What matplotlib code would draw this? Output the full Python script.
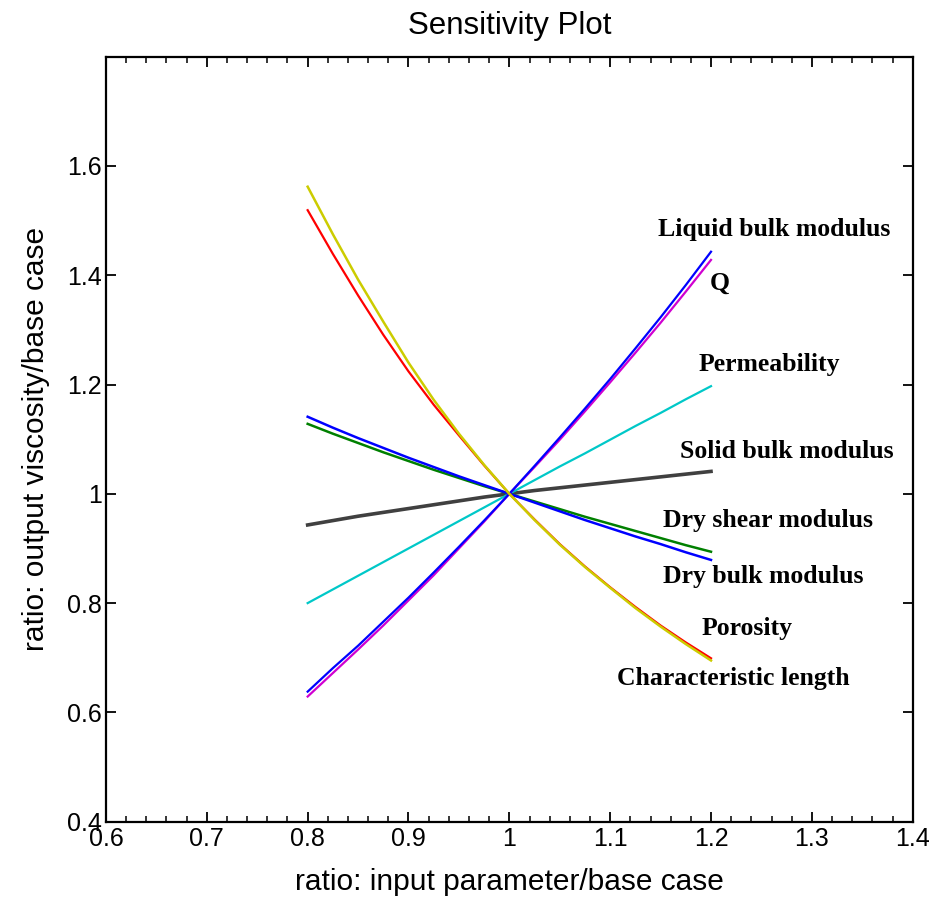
import matplotlib
matplotlib.use('Agg')
import matplotlib.pyplot as plt
from matplotlib.ticker import MultipleLocator

# input ratio sampled along every curve
ratio = [0.8, 0.825, 0.85, 0.875, 0.9, 0.925, 0.95, 0.975, 1.0,
         1.025, 1.05, 1.075, 1.1, 1.125, 1.15, 1.175, 1.2]

# output viscosity ratio
char_length = [1.562, 1.475, 1.392, 1.315, 1.240, 1.172, 1.110, 1.053, 1.0,
               0.952, 0.907, 0.866, 0.828, 0.791, 0.757, 0.725, 0.695]
porosity = [1.519, 1.439, 1.363, 1.291, 1.224, 1.163, 1.107, 1.052, 1.0,
            0.953, 0.908, 0.867, 0.829, 0.793, 0.759, 0.728, 0.699]
liquid_bulk = [0.638, 0.681, 0.722, 0.766, 0.810, 0.856, 0.903, 0.951, 1.0,
               1.051, 1.103, 1.156, 1.210, 1.266, 1.323, 1.382, 1.443]
q_factor = [0.629, 0.672, 0.715, 0.759, 0.805, 0.851, 0.900, 0.949, 1.0,
            1.049, 1.099, 1.151, 1.204, 1.258, 1.313, 1.370, 1.428]
permeability = [0.800, 0.825, 0.850, 0.875, 0.900, 0.925, 0.950, 0.975, 1.0,
                1.025, 1.050, 1.074, 1.099, 1.124, 1.148, 1.173, 1.197]
solid_bulk = [0.943, 0.951, 0.959, 0.966, 0.973, 0.980, 0.987, 0.994, 1.0,
              1.006, 1.011, 1.016, 1.021, 1.026, 1.031, 1.036, 1.041]
dry_shear = [1.128, 1.110, 1.093, 1.076, 1.060, 1.044, 1.029, 1.014, 1.0,
             0.986, 0.972, 0.958, 0.945, 0.932, 0.919, 0.906, 0.894]
dry_bulk = [1.141, 1.121, 1.102, 1.084, 1.066, 1.049, 1.032, 1.016, 1.0,
            0.984, 0.968, 0.952, 0.937, 0.922, 0.908, 0.893, 0.879]

labels = ['Liquid bulk modulus', 'Q', 'Permeability', 'Solid bulk modulus',
          'Dry shear modulus', 'Dry bulk modulus', 'Porosity', 'Characteristic length']
label_x = [1.147, 1.199, 1.188, 1.169, 1.152, 1.152, 1.191, 1.107]
label_y = [1.483, 1.386, 1.236, 1.077, 0.952, 0.848, 0.753, 0.662]

fig = plt.figure(figsize=(9.38, 8.99), dpi=100)
ax = fig.add_axes([0.113, 0.086, 0.86, 0.851])

ax.plot(ratio, solid_bulk, color='#404040', lw=2.6)
ax.plot(ratio, permeability, color='#00c8c8', lw=1.6)
ax.plot(ratio, dry_shear, color='#008000', lw=1.8)
ax.plot(ratio, dry_bulk, color='#0000ff', lw=1.8)
ax.plot(ratio, q_factor, color='#d000d0', lw=1.6)
ax.plot(ratio, liquid_bulk, color='#0000ff', lw=1.6)
ax.plot(ratio, porosity, color='#ff0000', lw=1.6)
ax.plot(ratio, char_length, color='#cccc00', lw=1.8)

for name, tx, ty in zip(labels, label_x, label_y):
    ax.text(tx, ty, name, ha='left', va='center', fontsize=18.5,
            fontweight='bold', family='Liberation Serif')

ax.set_xlim(0.6, 1.4)
ax.set_ylim(0.4, 1.8)
ax.set_xticks([0.6, 0.7, 0.8, 0.9, 1.0, 1.1, 1.2, 1.3, 1.4])
ax.set_xticklabels(['0.6', '0.7', '0.8', '0.9', '1', '1.1', '1.2', '1.3', '1.4'])
ax.set_yticks([0.4, 0.6, 0.8, 1.0, 1.2, 1.4, 1.6])
ax.set_yticklabels(['0.4', '0.6', '0.8', '1', '1.2', '1.4', '1.6'])
ax.xaxis.set_minor_locator(MultipleLocator(0.02))

ax.tick_params(which='both', direction='in', top=True, right=True)
ax.tick_params(which='major', length=7, width=1.3, labelsize=18)
ax.tick_params(axis='x', which='major', pad=4)
ax.tick_params(axis='y', which='major', pad=3)
ax.tick_params(which='minor', length=4, width=1.1)
for lab in ax.get_xticklabels() + ax.get_yticklabels():
    lab.set_family('Liberation Sans')
for sp in ax.spines.values():
    sp.set_linewidth(1.6)

ax.set_title('Sensitivity Plot', fontsize=22.5, family='Liberation Sans', pad=16)
ax.set_xlabel('ratio: input parameter/base case', fontsize=21.5,
              family='Liberation Sans', labelpad=12)
ax.set_ylabel('ratio: output viscosity/base case', fontsize=21.5,
              family='Liberation Sans', labelpad=12)

fig.savefig('out.png', dpi=100)
